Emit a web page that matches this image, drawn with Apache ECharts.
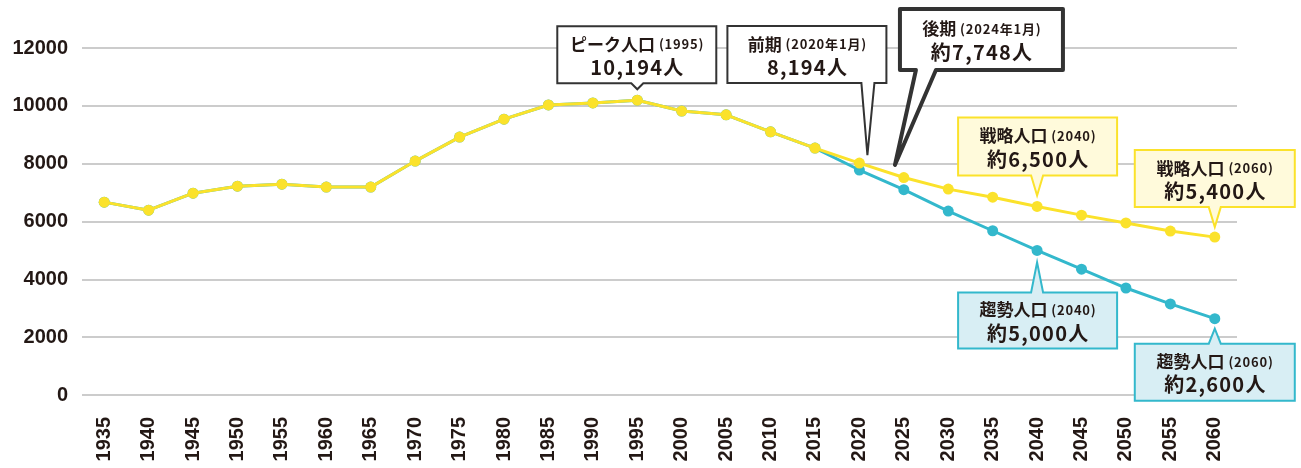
<!DOCTYPE html>
<html><head><meta charset="utf-8">
<script src="https://cdn.jsdelivr.net/npm/echarts@6/dist/echarts.min.js"></script>
<style>html,body{margin:0;padding:0;background:#fff}#c{width:1301px;height:468px}</style>
</head><body><div id="c"></div>
<script>
var years = ['1935','1940','1945','1950','1955','1960','1965','1970','1975','1980','1985','1990','1995','2000','2005','2010','2015','2020','2025','2030','2035','2040','2045','2050','2055','2060'];
var strategy = [6670,6390,6980,7220,7290,7190,7190,8090,8920,9540,10030,10100,10194,9820,9690,9100,8540,8020,7520,7120,6840,6520,6220,5950,5670,5460];
var trend = [6670,6390,6980,7220,7290,7190,7190,8090,8920,9540,10030,10100,10194,9820,9690,9100,8540,7780,7100,6360,5680,5000,4350,3700,3150,2640];
var yTicks = [0,2000,4000,6000,8000,10000,12000];

var YEL = '#fbe22b', TEAL = '#33b8cc', DARK = '#333333';
var chart = echarts.init(document.getElementById('c'));
chart.setOption({
  animation:false,
  grid:{left:82,right:64,top:48,bottom:73,containLabel:false},
  xAxis:{type:'category',data:years,boundaryGap:true,
    axisLine:{show:false},axisTick:{show:false},
    axisLabel:{rotate:90,margin:22,color:'#231815',fontSize:20,fontWeight:'bold',fontFamily:'Liberation Sans',interval:0}},
  yAxis:{type:'value',min:yTicks[0],max:yTicks[yTicks.length-1],interval:2000,
    axisLine:{show:false},axisTick:{show:false},
    splitLine:{lineStyle:{color:'#cccccc',width:2}},
    axisLabel:{margin:14,color:'#231815',fontSize:20,fontWeight:'bold',fontFamily:'Liberation Sans',
      formatter:function(v){return String(v);}}},
  series:[
    {type:'line',data:trend,symbol:'circle',symbolSize:11,itemStyle:{color:TEAL},lineStyle:{color:TEAL,width:3},z:2},
    {type:'line',data:strategy,symbol:'circle',symbolSize:11,itemStyle:{color:YEL},lineStyle:{color:YEL,width:3},z:3}
  ]
});

function px(i,v){return chart.convertToPixel({xAxisIndex:0,yAxisIndex:0},[i,v]);}
function idx(y){return years.indexOf(y);}

var g = [];
function callout(o){
  var b=o.box, pts;
  if(o.dir==='down'){
    pts=[[b.l,b.t],[b.r,b.t],[b.r,b.b],[o.base[1],b.b],o.tip,[o.base[0],b.b],[b.l,b.b]];
  } else {
    pts=[[b.l,b.t],[o.base[0],b.t],o.tip,[o.base[1],b.t],[b.r,b.t],[b.r,b.b],[b.l,b.b]];
  }
  g.push({type:'polygon',shape:{points:pts},style:{fill:o.fill,stroke:o.stroke,lineWidth:o.lw,lineJoin:o.join||'miter'},z:100});
  var cx=(b.l+b.r)/2;
  g.push({type:'text',x:cx,y:b.t+(b.b-b.t)/2+1,z:101,style:{
    text:'{a|'+o.t1+'}{s|'+o.t2+'}\n{n|'+o.t3+'}',
    align:'center',verticalAlign:'middle',
    rich:{
      a:{fontSize:17,fontWeight:'bold',fill:'#231815',fontFamily:'Noto Sans CJK JP',lineHeight:23},
      s:{fontSize:13,fontWeight:'bold',fill:'#231815',fontFamily:'Noto Sans CJK JP',lineHeight:23},
      n:{fontSize:20,fontWeight:'bold',fill:'#231815',fontFamily:'Noto Sans CJK JP',lineHeight:23}
    }}});
}
function sp(s){return s.split('').join('\u200A');}

var p=px(idx('1995'),10194);
callout({tip:[p[0],p[1]-11],box:{l:p[0]-80,r:p[0]+79,t:p[1]-74,b:p[1]-17},base:[p[0]-6,p[0]+6],dir:'down',
  fill:'#ffffff',stroke:DARK,lw:2,t1:'ピーク人口',t2:sp(' (1995)'),t3:sp('10,194人')});
p=px(idx('2020'),8194);
callout({tip:[p[0]+8,p[1]-3],box:{l:p[0]-132,r:p[0]+27,t:p[1]-132,b:p[1]-75},base:[p[0]+2,p[0]+15],dir:'down',
  fill:'#ffffff',stroke:DARK,lw:2,t1:'前期',t2:sp(' (2020年1月)'),t3:sp('8,194人')});
var a=px(idx('2020'),7748), c=px(idx('2025'),7748);
var xq=a[0]+(c[0]-a[0])*0.8;
callout({tip:[xq,a[1]-6],box:{l:xq+5,r:xq+168,t:a[1]-162,b:a[1]-101},base:[xq+21,xq+41],dir:'down',
  fill:'#ffffff',stroke:DARK,lw:4,join:'round',t1:'後期',t2:sp(' (2024年1月)'),t3:sp('約7,748人')});
p=px(idx('2040'),strategy[idx('2040')]);
callout({tip:[p[0],p[1]-11],box:{l:p[0]-79,r:p[0]+80,t:p[1]-89,b:p[1]-31},base:[p[0]-6,p[0]+6],dir:'down',
  fill:'#fffadb',stroke:YEL,lw:2,t1:'戦略人口',t2:sp(' (2040)'),t3:sp('約6,500人')});
p=px(idx('2060'),strategy[idx('2060')]);
callout({tip:[p[0],p[1]-10],box:{l:p[0]-80,r:p[0]+80,t:p[1]-87,b:p[1]-30},base:[p[0]-6,p[0]+6],dir:'down',
  fill:'#fffadb',stroke:YEL,lw:2,t1:'戦略人口',t2:sp(' (2060)'),t3:sp('約5,400人')});
p=px(idx('2040'),trend[idx('2040')]);
callout({tip:[p[0],p[1]+12],box:{l:p[0]-79,r:p[0]+80,t:p[1]+42,b:p[1]+98},base:[p[0]-6,p[0]+6],dir:'up',
  fill:'#d8eef4',stroke:TEAL,lw:2,t1:'趨勢人口',t2:sp(' (2040)'),t3:sp('約5,000人')});
p=px(idx('2060'),trend[idx('2060')]);
callout({tip:[p[0],p[1]+10],box:{l:p[0]-80,r:p[0]+80,t:p[1]+25,b:p[1]+82},base:[p[0]-6,p[0]+6],dir:'up',
  fill:'#d8eef4',stroke:TEAL,lw:2,t1:'趨勢人口',t2:sp(' (2060)'),t3:sp('約2,600人')});

chart.setOption({graphic:g});
</script></body></html>
